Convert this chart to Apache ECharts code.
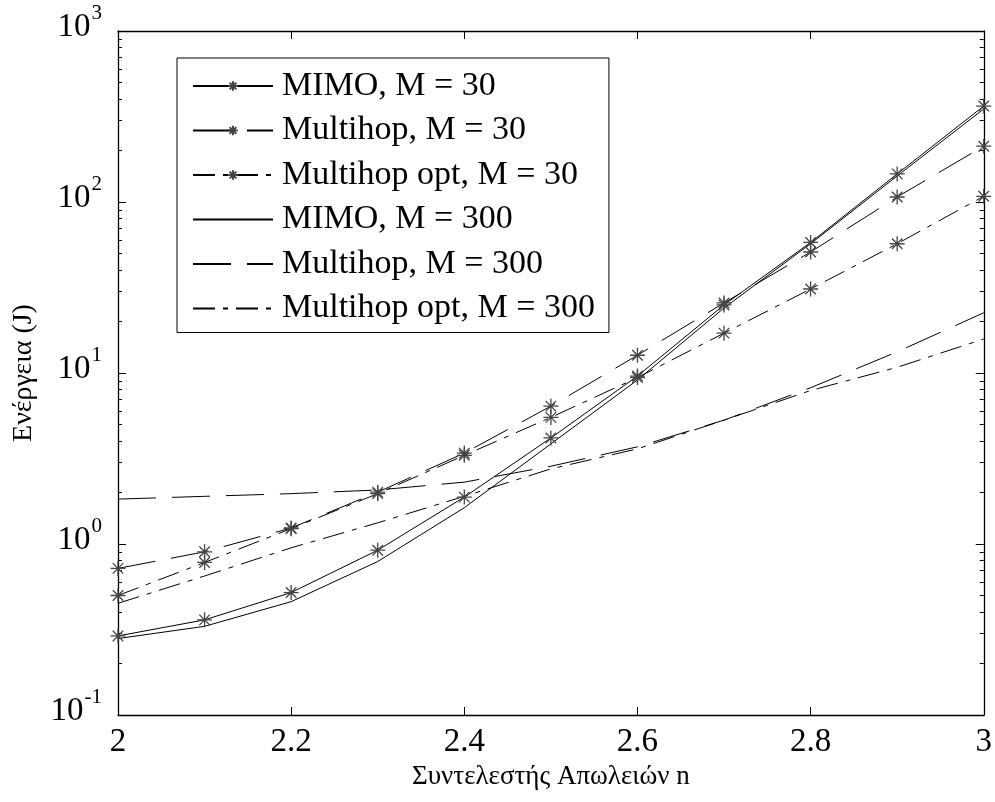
<!DOCTYPE html>
<html><head><meta charset="utf-8">
<script src="https://cdn.jsdelivr.net/npm/echarts@6/dist/echarts.min.js"></script>
<style>html,body{margin:0;padding:0;background:#fff}#c{width:995px;height:802px}</style>
</head><body><div id="c"></div>
<script>
var nValues = [2.0, 2.1, 2.2, 2.3, 2.4, 2.5, 2.6, 2.7, 2.8, 2.9, 3.0];
var mimo30 = [0.29, 0.36, 0.52, 0.92, 1.88, 4.17, 9.6, 25, 58, 146, 364];
var multihop30 = [0.72, 0.90, 1.24, 2.01, 3.4, 6.4, 12.7, 25.7, 51, 107, 212];
var multihopOpt30 = [0.50, 0.78, 1.23, 1.97, 3.3, 5.5, 9.4, 17.1, 31, 57, 108];
var mimo300 = [0.28, 0.33, 0.46, 0.79, 1.63, 3.85, 9.1, 24, 57, 142, 350];
var multihop300 = [1.83, 1.90, 1.97, 2.07, 2.3, 2.85, 3.7, 5.3, 8.2, 13.3, 22.5];
var multihopOpt300 = [0.45, 0.65, 0.95, 1.33, 1.9, 2.75, 3.6, 5.3, 7.9, 10.8, 15.8];
var seriesNames = ['MIMO, M = 30', 'Multihop, M = 30', 'Multihop opt, M = 30', 'MIMO, M = 300', 'Multihop, M = 300', 'Multihop opt, M = 300'];
var xTickLabels = ['2', '2.2', '2.4', '2.6', '2.8', '3'];
var yDecades = [0.1, 1, 10, 100, 1000];
var yMinorTicks = [0.2,0.3,0.4,0.5,0.6,0.7,0.8,0.9,2,3,4,5,6,7,8,9,20,30,40,50,60,70,80,90,200,300,400,500,600,700,800,900];
var xLabel = 'Συντελεστής Απωλειών n';
var yLabel = 'Ενέργεια (J)';

var FONT = 'Liberation Serif';
var STAR = 'path://M5,0L5,10M0,5L10,5M1.5,1.5L8.5,8.5M1.5,8.5L8.5,1.5';
function pairs(arr){ return arr.map(function(v,i){ return [nValues[i], v]; }); }
var DASH = [38, 16];
var DASHDOT = [22, 8, 5, 8];
function mk(name, data, type, star){
  return {
    name: name, type: 'line', data: pairs(data), xAxisIndex: 0, yAxisIndex: 0,
    symbol: STAR, symbolSize: 15, showSymbol: !!star,
    lineStyle: {color: '#000', width: 1, type: type},
    itemStyle: star ? {color: '#000', borderColor: '#444', borderWidth: 1.3}
                    : {color: 'rgba(0,0,0,0)', borderColor: 'rgba(0,0,0,0)', borderWidth: 0},
    emphasis: {disabled: true}, animation: false, z: 3
  };
}
var chart = echarts.init(document.getElementById('c'));
var yLab = {
  fontFamily: FONT, color: '#000', margin: 16, padding: [0, 0, 8, 0],
  formatter: function(v){ var e = Math.round(Math.log10(v)); return '{b|10}{s|' + e + '}'; },
  rich: {
    b: {fontFamily: FONT, fontSize: 33, color: '#000', verticalAlign: 'bottom', lineHeight: 33},
    s: {fontFamily: FONT, fontSize: 21, color: '#000', verticalAlign: 'bottom', lineHeight: 21, padding: [0, 0, 20, 1]}
  }
};
var common = {min: 0.1, max: 1000, type: 'log', logBase: 10, splitLine: {show: false}};
chart.setOption({
  backgroundColor: '#fff',
  animation: false,
  grid: {left: 118, right: 9, top: 31, bottom: 87},
  legend: {
    orient: 'vertical', left: 177, top: 58,
    data: seriesNames,
    backgroundColor: '#fff', borderColor: '#000', borderWidth: 1,
    padding: [11, 14, 7, 15], itemGap: 10.5, itemWidth: 80, itemHeight: 12,
    textStyle: {fontFamily: FONT, fontSize: 34, color: '#000', lineHeight: 33, padding: [0, 0, 0, 4]},
    selectedMode: false
  },
  xAxis: [
    {type: 'value', min: 2, max: 3, interval: 0.2, position: 'bottom',
     name: xLabel, nameLocation: 'middle', nameGap: 42,
     nameTextStyle: {fontFamily: FONT, fontSize: 27, color: '#000'},
     axisLine: {show: true, lineStyle: {color: '#000', width: 1.3}},
     axisTick: {inside: true, length: 8, lineStyle: {color: '#000'}},
     axisLabel: {fontFamily: FONT, fontSize: 33, color: '#000', margin: 11,
       formatter: function(v){ var i = Math.round((v - 2) / 0.2); return xTickLabels[i]; }},
     splitLine: {show: false}},
    {type: 'value', min: 2, max: 3, interval: 0.2, position: 'top',
     axisLine: {show: true, lineStyle: {color: '#000', width: 1.3}},
     axisTick: {inside: true, length: 8, lineStyle: {color: '#000'}},
     axisLabel: {show: false}, splitLine: {show: false}}
  ],
  yAxis: [
    Object.assign({}, common, {position: 'left',
      name: yLabel, nameLocation: 'middle', nameGap: 80, nameRotate: 90,
      nameTextStyle: {fontFamily: FONT, fontSize: 28, color: '#000'},
      axisLine: {show: true, onZero: false, lineStyle: {color: '#000', width: 1.3}},
      axisTick: {inside: true, length: 8, lineStyle: {color: '#000'}, customValues: yDecades},
      axisLabel: Object.assign({customValues: yDecades}, yLab)}),
    Object.assign({}, common, {position: 'left',
      axisLine: {show: false},
      axisTick: {inside: true, length: 4, lineStyle: {color: '#000'}, customValues: yMinorTicks},
      axisLabel: {show: false}}),
    Object.assign({}, common, {position: 'right',
      axisLine: {show: true, onZero: false, lineStyle: {color: '#000', width: 1.3}},
      axisTick: {inside: true, length: 8, lineStyle: {color: '#000'}, customValues: yDecades},
      axisLabel: {show: false}}),
    Object.assign({}, common, {position: 'right',
      axisLine: {show: false},
      axisTick: {inside: true, length: 4, lineStyle: {color: '#000'}, customValues: yMinorTicks},
      axisLabel: {show: false}})
  ],
  series: [
    mk(seriesNames[0], mimo30, 'solid', true),
    mk(seriesNames[1], multihop30, DASH, true),
    mk(seriesNames[2], multihopOpt30, DASHDOT, true),
    mk(seriesNames[3], mimo300, 'solid', false),
    mk(seriesNames[4], multihop300, DASH, false),
    mk(seriesNames[5], multihopOpt300, DASHDOT, false)
  ]
});
</script></body></html>
